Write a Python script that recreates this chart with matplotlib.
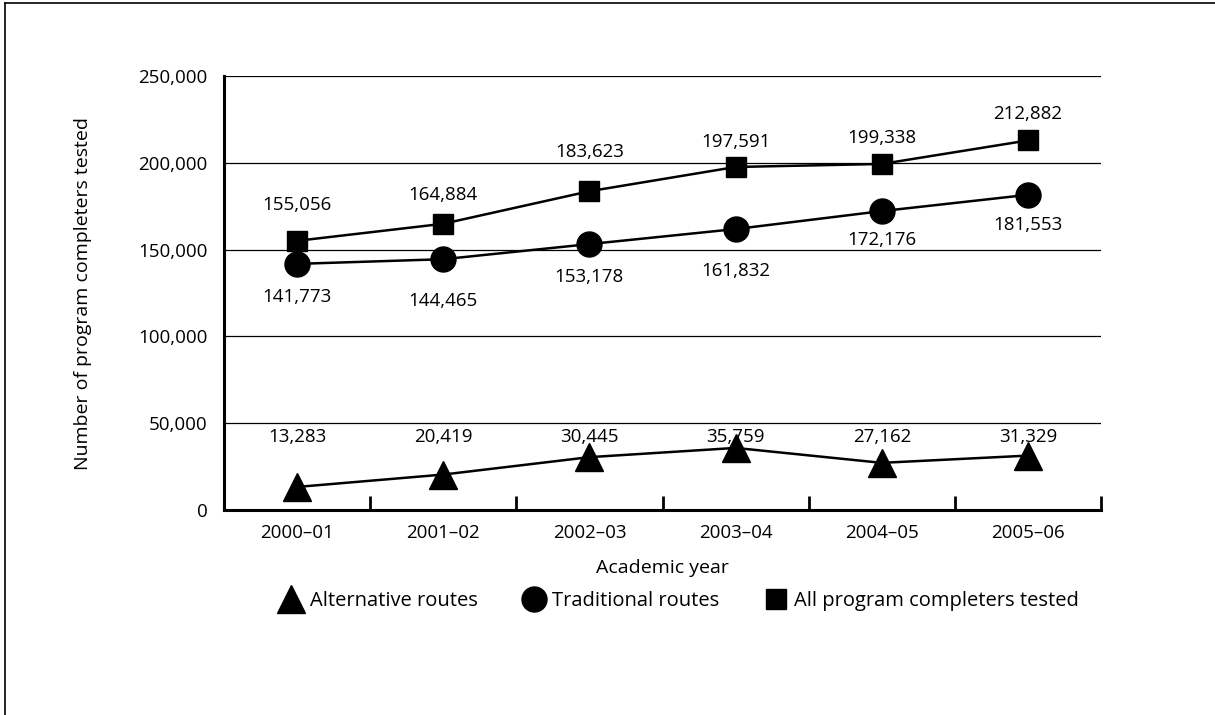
import matplotlib
matplotlib.use("Agg")
import matplotlib.pyplot as plt
from matplotlib.ticker import FuncFormatter, FixedLocator, NullFormatter
from matplotlib.lines import Line2D

years = ["2000\u201301", "2001\u201302", "2002\u201303", "2003\u201304", "2004\u201305", "2005\u201306"]
alternative = [13283, 20419, 30445, 35759, 27162, 31329]
traditional = [141773, 144465, 153178, 161832, 172176, 181553]
all_tested = [155056, 164884, 183623, 197591, 199338, 212882]
y_ticks = [0, 50000, 100000, 150000, 200000, 250000]

# label offsets (points) - styling only
all_off = [26, 21, 28, 18, 19, 19]
trad_off = [-24, -30, -24, -30, -21, -22]
alt_label_level = 42000

plt.rcParams["font.family"] = ["Open Sans", "DejaVu Sans"]
FS = 13.5

fig = plt.figure(figsize=(12.15, 7.15), dpi=100)
ax = fig.add_axes([224/1215, 1-510/715, (1101-224)/1215, (510-76)/715])

x = list(range(len(years)))
ax.plot(x, alternative, color="black", lw=1.8, marker="^", ms=20, zorder=3, clip_on=False)
ax.plot(x, traditional, color="black", lw=1.8, marker="o", ms=18, zorder=3, clip_on=False)
ax.plot(x, all_tested, color="black", lw=1.8, marker="s", ms=15, zorder=3, clip_on=False)

for xi, v, o in zip(x, all_tested, all_off):
    ax.annotate(f"{v:,}", (xi, v), xytext=(0, o), textcoords="offset points",
                ha="center", va="center", fontsize=FS)
for xi, v, o in zip(x, traditional, trad_off):
    ax.annotate(f"{v:,}", (xi, v), xytext=(0, o), textcoords="offset points",
                ha="center", va="center", fontsize=FS)
for xi, v in zip(x, alternative):
    ax.text(xi, alt_label_level, f"{v:,}", ha="center", va="center", fontsize=FS)

ax.set_xlim(-0.5, len(years) - 0.5)
ax.set_ylim(0, 250000)
ax.set_yticks(y_ticks)
ax.yaxis.set_major_formatter(FuncFormatter(lambda v, p: f"{int(v):,}"))
ax.tick_params(axis="y", length=0, pad=12, labelsize=FS)
ax.yaxis.grid(True, color="black", lw=0.9)
ax.set_axisbelow(True)

ax.xaxis.set_major_locator(FixedLocator([i + 0.5 for i in x]))
ax.xaxis.set_major_formatter(NullFormatter())
ax.xaxis.set_minor_locator(FixedLocator(x))
ax.set_xticklabels(years, minor=True)
ax.tick_params(axis="x", which="major", direction="in", length=10, width=2)
ax.tick_params(axis="x", which="minor", length=0, pad=10, labelsize=FS)

for s in ["top", "right"]:
    ax.spines[s].set_visible(False)
for s in ["left", "bottom"]:
    ax.spines[s].set_linewidth(2.2)

ax.set_ylabel("Number of program completers tested", fontsize=FS + 0.5, labelpad=33)
ax.set_xlabel("Academic year", fontsize=FS + 0.5, labelpad=12)

handles = [
    Line2D([], [], ls="none", marker="^", ms=20, color="black"),
    Line2D([], [], ls="none", marker="o", ms=18, color="black"),
    Line2D([], [], ls="none", marker="s", ms=15, color="black"),
]
fig.legend(handles, ["Alternative routes", "Traditional routes", "All program completers tested"],
           loc="center", bbox_to_anchor=(680/1215, 1-601/715), ncol=3, frameon=False,
           fontsize=14.5, handlelength=1.0, handletextpad=0.4, columnspacing=2.3)

fig.add_artist(Line2D([5/1215, 5/1215], [0, 1-3/715], color="black", lw=1.2, transform=fig.transFigure))
fig.add_artist(Line2D([5/1215, 1], [1-3/715, 1-3/715], color="black", lw=1.2, transform=fig.transFigure))

fig.savefig("out.png", dpi=100)
